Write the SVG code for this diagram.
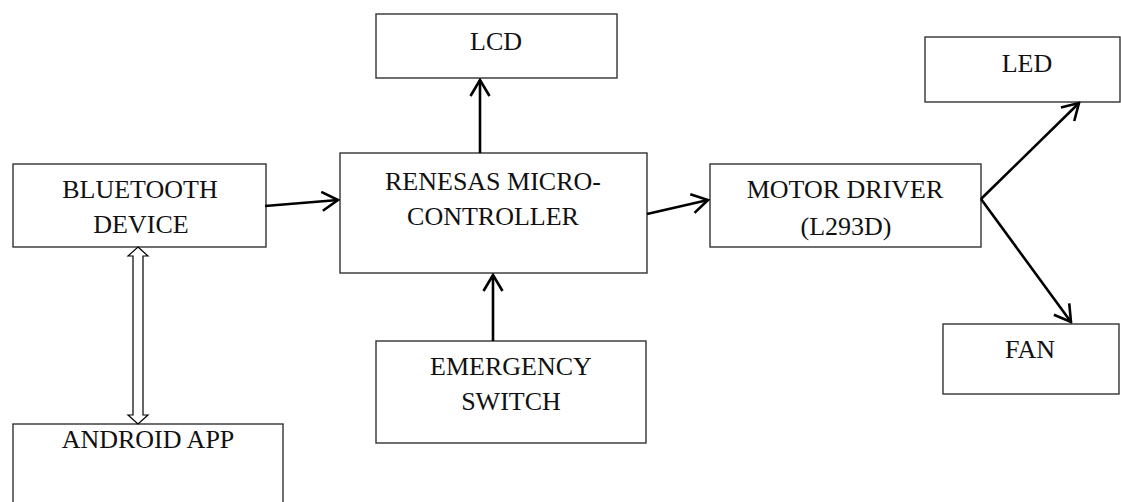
<svg xmlns="http://www.w3.org/2000/svg" width="1121" height="502" viewBox="0 0 1121 502">
<defs>
<style>
.box{fill:#fff;stroke:#333;stroke-width:1.4}
.t{font-family:"Liberation Serif","Times New Roman",serif;font-size:26px;fill:#111;text-anchor:middle}
.c{stroke:#000;stroke-width:2.6;fill:none}
.dbl{fill:#fff;stroke:#000;stroke-width:1.2}
</style>
<marker id="ah" viewBox="0 0 20 22" refX="18" refY="11" markerWidth="20" markerHeight="22" markerUnits="userSpaceOnUse" orient="auto">
<path d="M2,1.5 L18,11 L2,20.5" fill="none" stroke="#000" stroke-width="2.6"/>
</marker>
</defs>
<rect width="1121" height="502" fill="#fff"/>
<g id="lcd"><rect class="box" x="376" y="14" width="241" height="64"/><text class="t" x="496" y="50">LCD</text></g>
<g id="bluetooth"><rect class="box" x="13" y="164" width="253" height="83"/><text class="t" x="140" y="198">BLUETOOTH</text><text class="t" x="141" y="233">DEVICE</text></g>
<g id="mcu"><rect class="box" x="340" y="153" width="307" height="120"/><text class="t" x="493" y="190">RENESAS MICRO-</text><text class="t" x="493" y="225">CONTROLLER</text></g>
<g id="motor"><rect class="box" x="710" y="164" width="271" height="83"/><text class="t" x="845" y="198">MOTOR DRIVER</text><text class="t" x="846" y="235">(L293D)</text></g>
<g id="led"><rect class="box" x="925" y="37" width="195" height="65"/><text class="t" x="1027" y="72">LED</text></g>
<g id="fan"><rect class="box" x="943" y="324" width="176" height="70"/><text class="t" x="1030" y="358">FAN</text></g>
<g id="emergency"><rect class="box" x="376" y="341" width="270" height="102"/><text class="t" x="511" y="375">EMERGENCY</text><text class="t" x="511" y="410">SWITCH</text></g>
<g id="android"><rect class="box" x="13" y="424" width="270" height="90"/><text class="t" x="148" y="448">ANDROID APP</text></g>
<g id="connectors">
<line class="c" x1="265" y1="206" x2="338" y2="200" marker-end="url(#ah)"/>
<line class="c" x1="480" y1="153" x2="480" y2="80" marker-end="url(#ah)"/>
<line class="c" x1="493" y1="341" x2="493" y2="275" marker-end="url(#ah)"/>
<line class="c" x1="647" y1="214" x2="708" y2="200" marker-end="url(#ah)"/>
<line class="c" x1="981" y1="199" x2="1079" y2="103" marker-end="url(#ah)"/>
<line class="c" x1="981" y1="199" x2="1071" y2="322" marker-end="url(#ah)"/>
<path class="dbl" d="M138,247 L148,256 L143,256 L143,415 L148,415 L138,424 L128,415 L133,415 L133,256 L128,256 Z"/>
</g>
</svg>
